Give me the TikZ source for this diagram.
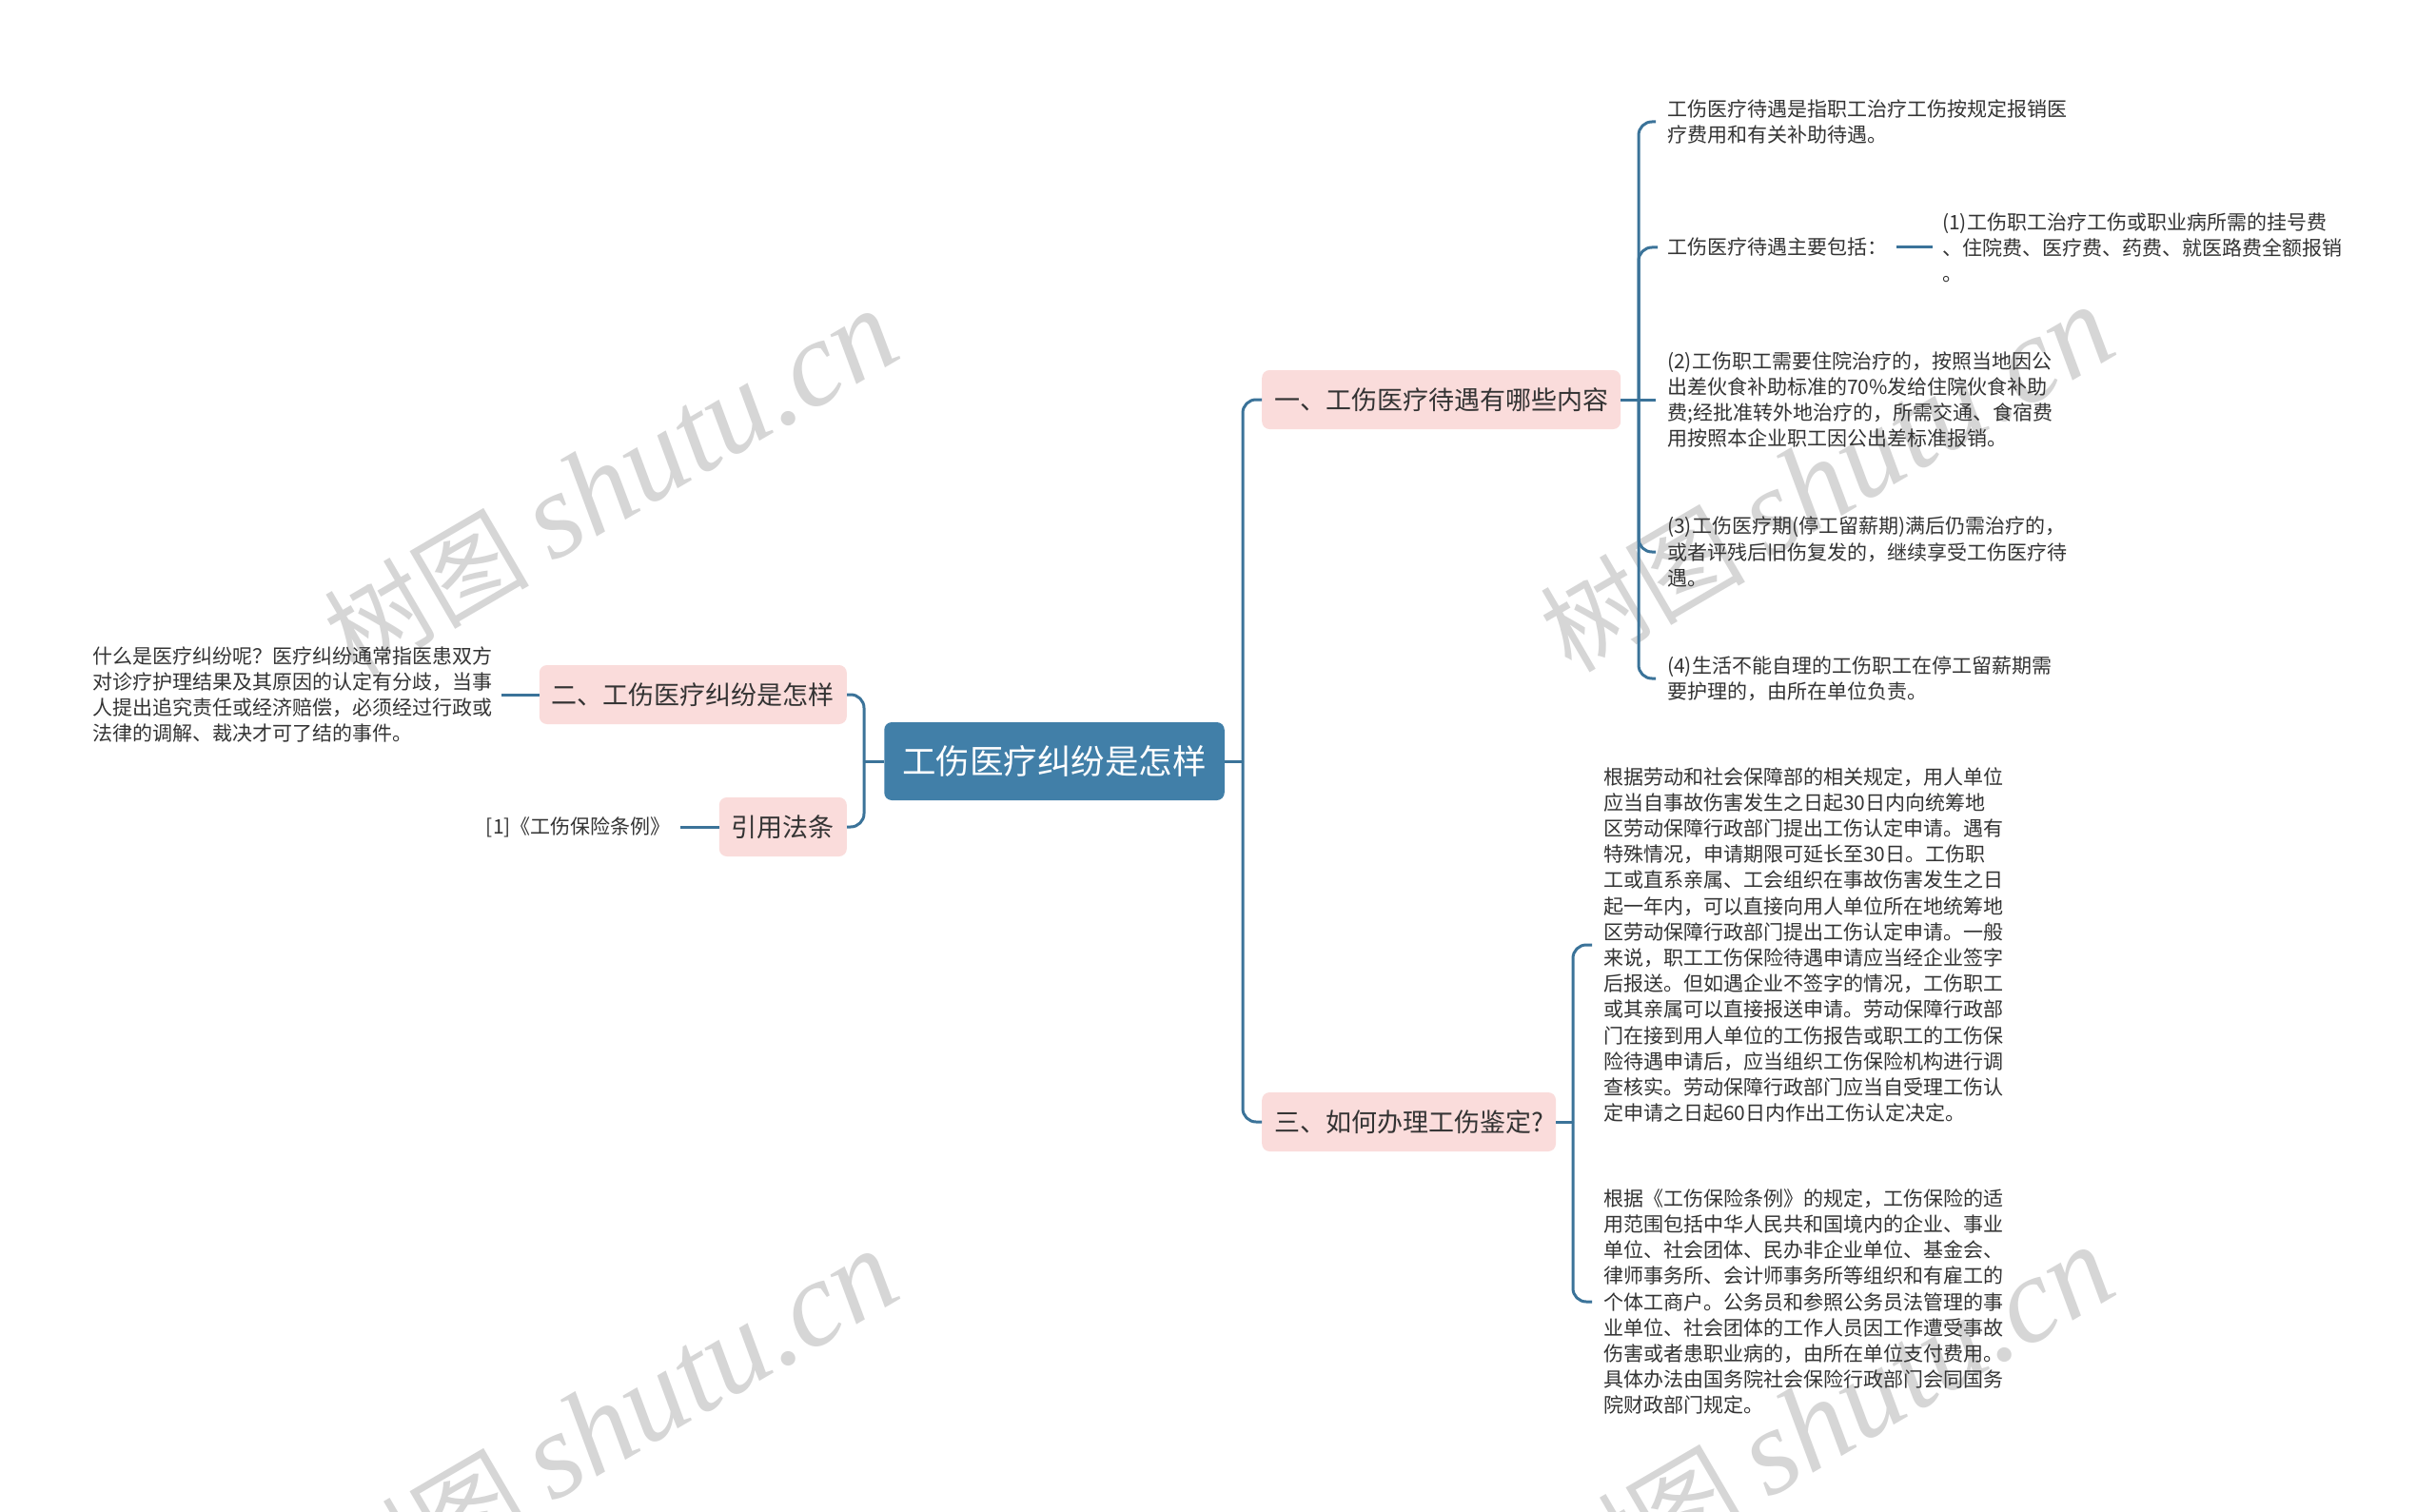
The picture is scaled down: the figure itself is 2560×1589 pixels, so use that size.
\documentclass[tikz,border=0pt]{standalone}
\usepackage{fontspec}
\setmainfont{Noto Sans CJK SC}
\newfontfamily\wmlatin{Liberation Serif}
\definecolor{rootfill}{HTML}{417FA8}
\definecolor{linec}{HTML}{3B7399}
\definecolor{pinkfill}{HTML}{FADCDB}
\definecolor{txt}{HTML}{333333}
\definecolor{wm}{HTML}{D6D6D6}
\tikzset{
  rootbox/.style={fill=rootfill, rounded corners=8pt, text=white, font=\fontsize{35.5}{42}\selectfont, inner xsep=19pt, inner ysep=0pt, minimum height=82pt},
  lonebox/.style={fill=pinkfill, rounded corners=8pt, text=txt, font=\fontsize{27}{32}\selectfont, inner xsep=13pt, inner ysep=0pt, minimum height=62pt},
  leaf/.style={text=txt, font=\fontsize{21}{27.2}\selectfont, align=left, inner xsep=12pt, inner ysep=3pt},
  conn/.style={draw=linec, line width=3pt},
  bconn/.style={draw=linec, line width=3pt, rounded corners=14pt},
  wmark/.style={text=wm, rotate=30.3, inner sep=0pt}
}
\newcommand{\wmtext}{\fontsize{108}{118}\selectfont 树图 {\wmlatin\itshape\fontsize{128}{136}\selectfont shutu.cn}}
\begin{document}
\begin{tikzpicture}[x=1pt,y=-1pt]
\useasboundingbox (0,0) rectangle (2560,1589);
\fill[white] (0,0) rectangle (2560,1589);
% watermarks
\begin{scope}
\clip (0,0) rectangle (2560,1589);
\node[wmark] (wm1) at (642,508) {\wmtext};
\node[wmark] (wm2) at (1920,504) {\wmtext};
\node[wmark] (wm3) at (642,1496) {\wmtext};
\node[wmark] (wm4) at (1920,1492) {\wmtext};
\end{scope}

% root
\node[rootbox] (root) at (1108,800) {工伤医疗纠纷是怎样};

% level one
\node[lonebox, anchor=west] (b1) at (1326,420) {一、工伤医疗待遇有哪些内容};
\node[lonebox, anchor=east] (b2) at (890,730) {二、工伤医疗纠纷是怎样};
\node[lonebox, anchor=east] (b4) at (890,869) {引用法条};
\node[lonebox, anchor=west] (b3) at (1326,1179) {三、如何办理工伤鉴定?};

% leaves of branch one
\node[leaf, anchor=west] (l11) at (1740,128) {工伤医疗待遇是指职工治疗工伤按规定报销医\\疗费用和有关补助待遇。};
\node[leaf, anchor=west, inner xsep=10pt] (l12) at (1742,260) {工伤医疗待遇主要包括：};
\node[leaf, anchor=west, inner xsep=10pt] (l12a) at (2031,260) {(1)工伤职工治疗工伤或职业病所需的挂号费\\、住院费、医疗费、药费、就医路费全额报销\\。};
\node[leaf, anchor=west] (l13) at (1740,420) {(2)工伤职工需要住院治疗的，按照当地因公\\出差伙食补助标准的70\%发给住院伙食补助\\费;经批准转外地治疗的，所需交通、食宿费\\用按照本企业职工因公出差标准报销。};
\node[leaf, anchor=west] (l14) at (1740,580) {(3)工伤医疗期(停工留薪期)满后仍需治疗的，\\或者评残后旧伤复发的，继续享受工伤医疗待\\遇。};
\node[leaf, anchor=west] (l15) at (1740,713) {(4)生活不能自理的工伤职工在停工留薪期需\\要护理的，由所在单位负责。};

% leaf of branch two
\node[leaf, anchor=east, inner xsep=9pt] (l21) at (527,730) {什么是医疗纠纷呢？医疗纠纷通常指医患双方\\对诊疗护理结果及其原因的认定有分歧，当事\\人提出追究责任或经济赔偿，必须经过行政或\\法律的调解、裁决才可了结的事件。};

% leaf of citation
\node[leaf, anchor=east, inner xsep=10pt] (l41) at (715,869) {[1]《工伤保险条例》};

% leaves of branch three
\node[leaf, anchor=west] (l31) at (1673,993) {根据劳动和社会保障部的相关规定，用人单位\\应当自事故伤害发生之日起30日内向统筹地\\区劳动保障行政部门提出工伤认定申请。遇有\\特殊情况，申请期限可延长至30日。工伤职\\工或直系亲属、工会组织在事故伤害发生之日\\起一年内，可以直接向用人单位所在地统筹地\\区劳动保障行政部门提出工伤认定申请。一般\\来说，职工工伤保险待遇申请应当经企业签字\\后报送。但如遇企业不签字的情况，工伤职工\\或其亲属可以直接报送申请。劳动保障行政部\\门在接到用人单位的工伤报告或职工的工伤保\\险待遇申请后，应当组织工伤保险机构进行调\\查核实。劳动保障行政部门应当自受理工伤认\\定申请之日起60日内作出工伤认定决定。};
\node[leaf, anchor=west] (l32) at (1673,1368) {根据《工伤保险条例》的规定，工伤保险的适\\用范围包括中华人民共和国境内的企业、事业\\单位、社会团体、民办非企业单位、基金会、\\律师事务所、会计师事务所等组织和有雇工的\\个体工商户。公务员和参照公务员法管理的事\\业单位、社会团体的工作人员因工作遭受事故\\伤害或者患职业病的，由所在单位支付费用。\\具体办法由国务院社会保险行政部门会同国务\\院财政部门规定。};

% junction points
\coordinate (jr) at (1306,800);
\coordinate (jl) at (908,800);
\coordinate (j1) at (1722,420);
\coordinate (j3) at (1653,1179);

% root connectors
\draw[conn] (root.east) -- (jr);
\draw[bconn] (jr) |- (b1.west);
\draw[bconn] (jr) |- (b3.west);
\draw[conn] (root.west) -- (jl);
\draw[bconn] (jl) |- (b2.east);
\draw[bconn] (jl) |- (b4.east);

% branch one
\draw[conn] (b1.east) -- (j1);
\draw[bconn] (j1) |- (l11.west);
\draw[bconn] (j1) |- (l12.west);
\draw[conn] (j1) -- (l13.west);
\draw[bconn] (j1) |- (l14.west);
\draw[bconn] (j1) |- (l15.west);
\draw[conn] (l12.east) -- (l12a.west);

% branch two and citation
\draw[conn] (b2.west) -- (l21.east);
\draw[conn] (b4.west) -- (l41.east);

% branch three
\draw[conn] (b3.east) -- (j3);
\draw[bconn] (j3) |- (l31.west);
\draw[bconn] (j3) |- (l32.west);
\end{tikzpicture}
\end{document}
